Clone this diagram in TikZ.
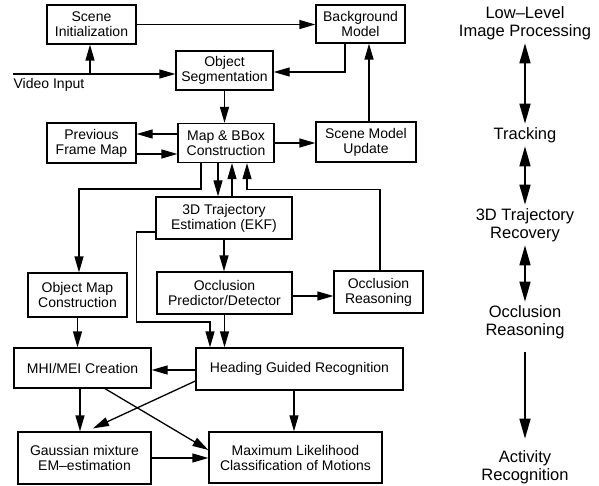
\documentclass[tikz,border=0pt]{standalone}
\usepackage{fontspec}
\setmainfont{Liberation Sans}
\usetikzlibrary{arrows.meta, calc}

\begin{document}
\begin{tikzpicture}[x=1pt, y=-1pt, line width=1.3pt,
		box/.style={draw, align=center, inner sep=0pt, font=\fontsize{14}{15}\selectfont},
		lvl/.style={align=center, inner sep=3pt, font=\fontsize{16.5}{18}\selectfont},
		arr/.style={-{Triangle[length=16pt, width=9pt]}},
		bigarr/.style={line width=1.6pt, -{Triangle[length=20pt, width=11pt]}},
		dblarr/.style={line width=1.6pt, {Triangle[length=20pt, width=11pt]}-{Triangle[length=20pt, width=11pt]}}]
		\useasboundingbox (0,0) rectangle (599,486);
		
		%%% Blocchi
		\node[box, minimum width=89pt, minimum height=39pt] (init) at (91.5,24.5) {Scene\\Initialization};
		\node[box, minimum width=89pt, minimum height=38pt] (bg) at (360.5,24) {Background\\Model};
		\node[box, minimum width=97pt, minimum height=39pt] (seg) at (224.5,70.5) {Object\\Segmentation};
		\node[box, minimum width=89pt, minimum height=40pt] (prev) at (91.5,143) {Previous\\Frame Map};
		\node[box, minimum width=96pt, minimum height=39pt] (map) at (226,143) {Map \& BBox\\Construction};
		\node[box, minimum width=100pt, minimum height=40pt] (smu) at (366,142) {Scene Model\\Update};
		\node[box, minimum width=136pt, minimum height=42pt] (traj) at (224,218) {3D Trajectory\\Estimation (EKF)};
		\node[box, minimum width=99pt, minimum height=44pt] (omc) at (77.5,295) {Object Map\\Construction};
		\node[box, minimum width=135pt, minimum height=42pt] (opd) at (224.5,293) {Occlusion\\Predictor/Detector};
		\node[box, minimum width=89pt, minimum height=42pt] (occr) at (378.5,292) {Occlusion\\Reasoning};
		\node[box, minimum width=137pt, minimum height=40pt] (mhi) at (82.5,368) {MHI/MEI Creation};
		\node[box, minimum width=207pt, minimum height=42pt] (hgr) at (299.5,369) {Heading Guided Recognition};
		\node[box, minimum width=133pt, minimum height=52pt] (gmm) at (84.5,458) {Gaussian mixture\\EM–estimation};
		\node[box, minimum width=173pt, minimum height=51pt] (mlc) at (295.5,457.5) {Maximum Likelihood\\Classification of Motions};
		
		%%% Ingresso video
		\coordinate (vin) at (13,74);
		\node[anchor=west, inner sep=0pt, font=\fontsize{14}{15}\selectfont] (vtxt) at (13,85) {Video Input};
		\draw[arr] (vin) -- (vin -| seg.west);
		\draw[arr] ([xshift=-1.5pt]init.south |- vin) -- ([xshift=-1.5pt]init.south);
		
		%%% Collegamenti parte alta
		\draw[arr] (init.east) -- (init.east -| bg.west);
		\draw[arr] ([xshift=-15.5pt]bg.south) |- ([yshift=-1.5pt]seg.east);
		\draw[arr] (seg.south) -- (seg.south |- map.north);
		\draw[arr] ([yshift=9pt]map.west) -- ([yshift=9pt]map.west -| prev.east);
		\draw[arr] ([yshift=-11pt]prev.east) -- ([yshift=-11pt]prev.east -| map.west);
		\draw[arr] (map.east) -- (map.east -| smu.west);
		\draw[arr] ([xshift=3pt]smu.north) -- ([xshift=3pt]smu.north |- bg.south);
		
		%%% Collegamenti parte centrale
		\draw[arr] ([xshift=-25pt]map.south) -- ++(0,26) -| ([xshift=1.5pt]omc.north);
		\draw[arr] ([xshift=-8pt]map.south) -- ([xshift=-8pt]map.south |- traj.north);
		\draw[arr] ([xshift=6pt]map.south |- traj.north) -- ([xshift=6pt]map.south);
		\draw[arr] ([xshift=1.5pt]occr.north) -- ++(0,-81) -| ([xshift=21pt]map.south);
		\draw[arr] (traj.south) -- (traj.south |- opd.north);
		\draw[arr] ([yshift=-3pt]opd.east) -- ([yshift=-3pt]opd.east -| occr.west);
		\draw[arr] ([yshift=-14pt]traj.west) -- ++(-19,0) -- ++(0,90) -| ([xshift=-89.5pt]hgr.north);
		\draw[arr] (opd.south) -- (opd.south |- hgr.north);
		
		%%% Collegamenti parte bassa
		\draw[arr] (omc.south) -- (omc.south |- mhi.north);
		\draw[arr] ([yshift=-1pt]hgr.west) -- ([yshift=-1pt]hgr.west -| mhi.east);
		\draw[arr] ([xshift=-2.5pt]mhi.south) -- ([xshift=-2.5pt]mhi.south |- gmm.north);
		\draw[arr] ([xshift=22.5pt]mhi.south) -- ([yshift=7.5pt]mlc.west);
		\draw[arr] ([yshift=-12pt]hgr.west) -- ([xshift=8.5pt, yshift=3pt]gmm.north);
		\draw[arr] (gmm.east) -- (gmm.east -| mlc.west);
		\draw[arr] ([xshift=-5.5pt]hgr.south) -- ([xshift=-5.5pt]hgr.south |- mlc.north);
		
		%%% Livelli
		\node[lvl] (lv1) at (525,23) {Low–Level\\Image Processing};
		\node[lvl] (lv2) at (525,135) {Tracking};
		\node[lvl] (lv3) at (525,225) {3D Trajectory\\Recovery};
		\node[lvl] (lv4) at (525,322) {Occlusion\\Reasoning};
		\node[lvl] (lv5) at (525,467) {Activity\\Recognition};
		\draw[dblarr] (lv1) -- (lv2);
		\draw[dblarr] (lv2) -- (lv3);
		\draw[dblarr] (lv3) -- (lv4);
		\draw[bigarr] ([yshift=-10pt]lv4.south) -- ([yshift=8pt]lv5.north);
	\end{tikzpicture}
\end{document}
